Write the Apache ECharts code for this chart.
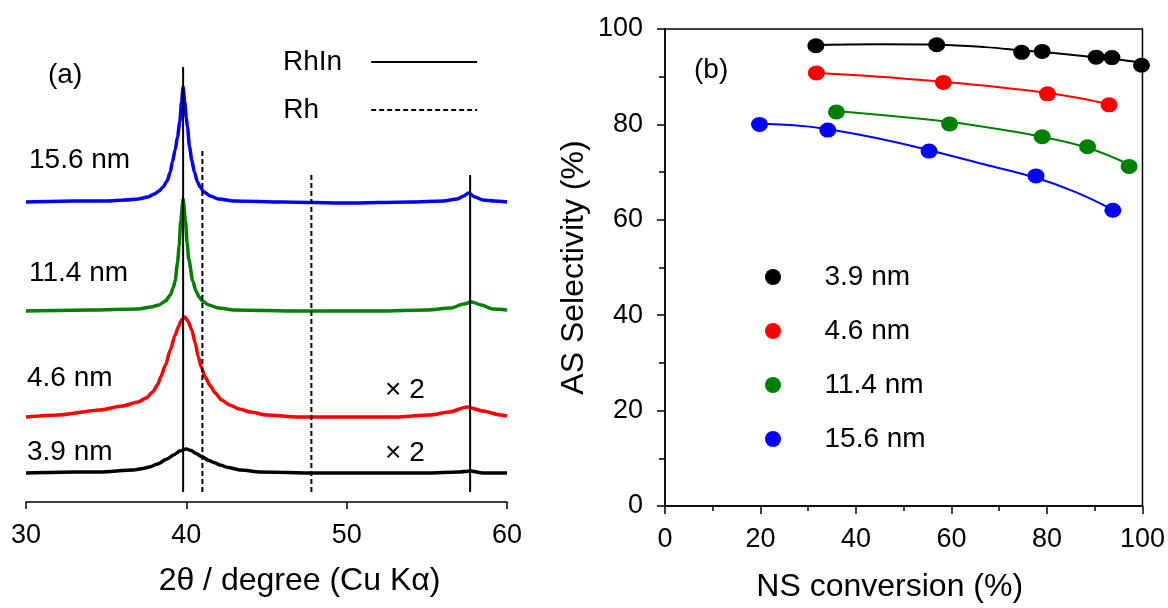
<!DOCTYPE html>
<html>
<head>
<meta charset="utf-8">
<script src="https://cdn.jsdelivr.net/npm/echarts@6/dist/echarts.min.js"></script>
<style>
  html, body { margin: 0; padding: 0; background: #fff; }
  #chart { width: 1168px; height: 608px; }
</style>
</head>
<body>
<div id="chart"></div>
<script>
// ---- panel (a): XRD patterns, intensity above each baseline (arb. units) ----
const xrdNames = ["3.9 nm", "4.6 nm", "11.4 nm", "15.6 nm"];
const xrdColors = ["#000000", "#ff0000", "#008000", "#0000ff"];
const xrdOffsets = [29, 85, 191, 300];

const xrd39 = [
  [30, 0], [33, 1], [34.6, 1], [36.7, 3], [37.3, 4.5], [37.7, 6], [38.2, 9],
  [38.8, 14], [39.2, 18], [39.6, 22], [40.0, 24], [40.3, 22.5], [40.6, 19.5],
  [41.0, 16], [41.4, 12.5], [41.8, 10], [42.1, 8], [42.6, 5.5], [43.4, 3],
  [44.6, 1], [48, 0], [55, 0], [57.0, 1], [57.7, 2], [58.5, 0], [60, 0],
];
const xrd46 = [
  [30, 0], [32, 2], [34.6, 7], [36, 11], [37, 15], [37.5, 19], [37.9, 25],
  [38.2, 32], [38.4, 40], [38.7, 52], [39.0, 67], [39.3, 82], [39.5, 90],
  [39.7, 97], [39.9, 100], [40.1, 96], [40.34, 87], [40.55, 74], [40.75, 60],
  [40.95, 49], [41.17, 40], [41.5, 31], [41.8, 24], [42.2, 17], [42.7, 12],
  [43.3, 8], [44, 5], [45, 2], [47, 0], [50, 0], [53, 0], [55.2, 2],
  [56.4, 5], [57.5, 10], [58.5, 6], [59.6, 2], [60, 1],
];
const xrd114 = [
  [30, 0], [34, 1], [37.0, 2], [37.8, 4], [38.3, 6], [38.7, 10], [39.0, 16],
  [39.2, 24], [39.3, 30], [39.45, 48], [39.55, 65], [39.65, 90], [39.8, 112],
  [39.95, 90], [40.05, 68], [40.15, 52], [40.4, 30], [40.6, 20], [40.8, 14],
  [41.0, 10], [41.4, 6], [42, 3], [43, 1], [47, 0], [52, 0], [55, 1],
  [56.5, 3], [57.3, 7], [57.8, 9], [58.4, 6], [59.1, 2], [60, 1],
];
const xrd156 = [
  [30, 0], [33, 1], [35, 1], [36.2, 2], [37.0, 3], [37.6, 5], [38.0, 8], [38.3, 11],
  [38.55, 15], [38.8, 21], [39.0, 30], [39.13, 40], [39.3, 52], [39.45, 65],
  [39.59, 80], [39.7, 100], [39.8, 115], [39.9, 100], [40.0, 84], [40.07, 75],
  [40.2, 55], [40.34, 42], [40.5, 30], [40.7, 20], [40.86, 15], [41.1, 10],
  [41.5, 6], [42, 3], [43, 1], [46, 0], [50, -1], [54, 0], [56, 1],
  [56.9, 3], [57.3, 6], [57.6, 9], [58.0, 5], [58.5, 2], [59.2, 1], [60, 0],
];
const xrdPatterns = [xrd39, xrd46, xrd114, xrd156];

// reference line positions (2θ) and their top ends
const rhinLines = [[39.8, 435], [57.7, 327]];
const rhLines = [[41.0, 354], [47.8, 327]];
const refLineBottom = 10;

// ---- panel (b): selectivity vs conversion ----
const selNames = ["3.9 nm", "4.6 nm", "11.4 nm", "15.6 nm"];
const selColors = ["#000000", "#ff0000", "#008000", "#0000ff"];
const sel39 = [[31.6, 96.5], [56.9, 96.7], [74.7, 95.1], [79.0, 95.3], [90.3, 94.1], [93.6, 94.0], [99.8, 92.4]];
const sel46 = [[31.7, 90.8], [58.3, 88.8], [80.1, 86.4], [93.0, 84.1]];
const sel114 = [[35.9, 82.6], [59.6, 80.1], [79.0, 77.4], [88.5, 75.3], [97.2, 71.2]];
const sel156 = [[19.8, 80.0], [34.1, 78.8], [55.3, 74.4], [77.7, 69.2], [93.8, 62.0]];
const selPoints = [sel39, sel46, sel114, sel156];

// fitted curves
const fit39 = [[30.1, 96.6], [45, 96.8], [57, 96.7], [67, 96.2], [75, 95.5], [83, 94.8], [90, 94.1], [95, 93.6], [100, 92.9]];
const fit46 = [[30.5, 90.9], [45, 90.0], [58.3, 88.9], [70, 87.8], [80.1, 86.6], [87, 85.5], [93, 84.2]];
const fit114 = [[34.5, 82.9], [47, 81.8], [59.6, 80.5], [70, 79.0], [79, 77.4], [88.5, 75.1], [97.2, 71.6]];
const fit156 = [[18, 80.2], [27, 79.8], [34.1, 79.0], [45, 77.0], [55.3, 74.6], [67, 71.6], [77.7, 68.8], [86, 65.8], [93.8, 62.1]];
const selFits = [fit39, fit46, fit114, fit156];

const FONT = '"Liberation Sans", Arial, sans-serif';
const chart = echarts.init(document.getElementById("chart"));

const series = [];

xrdPatterns.forEach((pts, i) => {
  series.push({
    name: "xrd " + xrdNames[i],
    type: "line",
    xAxisIndex: 0,
    yAxisIndex: 0,
    data: pts.map((p) => [p[0], p[1] + xrdOffsets[i]]),
    symbol: "none",
    smooth: 0.25,
    smoothMonotone: "x",
    lineStyle: { color: xrdColors[i], width: 3.5 },
    z: 2,
  });
});

rhinLines.forEach((l) => {
  series.push({
    name: "RhIn",
    type: "line",
    xAxisIndex: 0,
    yAxisIndex: 0,
    data: [[l[0], refLineBottom], [l[0], l[1]]],
    symbol: "none",
    lineStyle: { color: "#000", width: 2, type: "solid" },
    itemStyle: { color: "#000" },
    z: 3,
  });
});
rhLines.forEach((l) => {
  series.push({
    name: "Rh",
    type: "line",
    xAxisIndex: 0,
    yAxisIndex: 0,
    data: [[l[0], refLineBottom], [l[0], l[1]]],
    symbol: "none",
    lineStyle: { color: "#000", width: 2, type: [5, 3] },
    itemStyle: { color: "#000" },
    z: 3,
  });
});

selFits.forEach((pts, i) => {
  series.push({
    name: "fit " + selNames[i],
    type: "line",
    xAxisIndex: 1,
    yAxisIndex: 1,
    data: pts,
    symbol: "none",
    smooth: 0.4,
    lineStyle: { color: selColors[i], width: 2 },
    z: 2,
  });
});
selPoints.forEach((pts, i) => {
  series.push({
    name: selNames[i],
    type: "scatter",
    xAxisIndex: 1,
    yAxisIndex: 1,
    data: pts,
    symbol: "circle",
    symbolSize: [17, 15],
    itemStyle: { color: selColors[i], opacity: 1 },
    z: 4,
  });
});

const textEl = (x, y, text) => ({
  type: "text",
  x: x,
  y: y,
  style: {
    text: text,
    font: "28px " + FONT,
    fill: "#000",
    textAlign: "left",
    textVerticalAlign: "middle",
  },
});

const option = {
  animation: false,
  backgroundColor: "#fff",
  textStyle: { fontFamily: FONT, color: "#000" },
  grid: [
    { left: 26, right: 661, top: 42, bottom: 106 },
    {
      left: 665, right: 25, top: 29, bottom: 99,
      show: true, borderColor: "#000", borderWidth: 1.5, backgroundColor: "transparent",
    },
  ],
  xAxis: [
    {
      gridIndex: 0,
      type: "value",
      min: 30,
      max: 60,
      interval: 10,
      name: "2θ / degree (Cu Kα)",
      nameLocation: "middle",
      nameGap: 63,
      nameTextStyle: { fontSize: 32, color: "#000", padding: [0, 0, 0, 66] },
      axisLine: { lineStyle: { color: "#000", width: 1.5 } },
      axisTick: { length: 7, lineStyle: { color: "#000", width: 1.5 } },
      axisLabel: { fontSize: 27, color: "#000", margin: 20 },
      splitLine: { show: false },
    },
    {
      gridIndex: 1,
      type: "value",
      min: 0,
      max: 100,
      interval: 20,
      name: "NS conversion (%)",
      nameLocation: "middle",
      nameGap: 65,
      nameTextStyle: { fontSize: 32, color: "#000", padding: [0, 28, 0, 0] },
      axisLine: { onZero: false, lineStyle: { color: "#000", width: 1.5 } },
      axisTick: { length: 8, lineStyle: { color: "#000", width: 1.5 } },
      minorTick: { show: true, splitNumber: 2, length: 5, lineStyle: { color: "#000", width: 1.5 } },
      axisLabel: { fontSize: 27, color: "#000", margin: 20 },
      splitLine: { show: false },
    },
  ],
  yAxis: [
    {
      gridIndex: 0,
      type: "value",
      min: 0,
      max: 460,
      show: false,
    },
    {
      gridIndex: 1,
      type: "value",
      min: 0,
      max: 100,
      interval: 20,
      name: "AS Selectivity (%)",
      nameLocation: "middle",
      nameGap: 75,
      nameTextStyle: { fontSize: 32, color: "#000" },
      axisLine: { onZero: false, lineStyle: { color: "#000", width: 1.5 } },
      axisTick: { length: 8, lineStyle: { color: "#000", width: 1.5 } },
      minorTick: { show: true, splitNumber: 2, length: 6, lineStyle: { color: "#000", width: 1.5 } },
      axisLabel: { fontSize: 27, color: "#000", margin: 22 },
      splitLine: { show: false },
    },
  ],
  legend: [
    {
      data: [
        { name: "RhIn", textStyle: { padding: [0, 24, 0, 0] } },
        { name: "Rh", textStyle: { padding: [0, 47, 0, 0] } },
      ],
      orient: "vertical",
      left: 278,
      top: 42,
      align: "right",
      itemWidth: 106,
      itemHeight: 14,
      itemGap: 18,
      selectedMode: false,
      itemStyle: { color: "rgba(0,0,0,0)", borderWidth: 0, opacity: 0 },
      textStyle: { fontSize: 28, color: "#000", lineHeight: 30 },
    },
    {
      data: selNames.map((n) => ({ name: n, icon: "circle" })),
      orient: "vertical",
      left: 760,
      top: 257,
      itemWidth: 17,
      itemHeight: 16,
      itemGap: 24,
      selectedMode: false,
      textStyle: { fontSize: 28, color: "#000", lineHeight: 30, padding: [0, 0, 0, 38] },
    },
  ],
  graphic: [
    textEl(48, 75, "(a)"),
    textEl(29, 160, "15.6 nm"),
    textEl(29, 273, "11.4 nm"),
    textEl(27, 378, "4.6 nm"),
    textEl(27, 452, "3.9 nm"),
    textEl(385, 390, "× 2"),
    textEl(385, 453, "× 2"),
    textEl(694, 70, "(b)"),
  ],
  series: series,
};

chart.setOption(option);
</script>
</body>
</html>
